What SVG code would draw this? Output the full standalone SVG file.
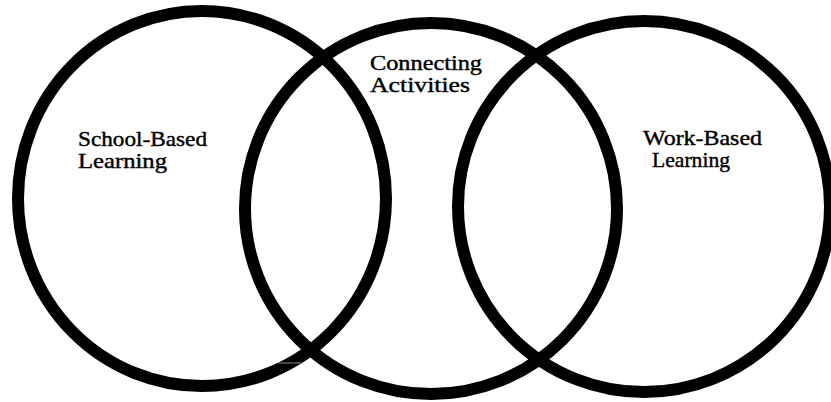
<svg xmlns="http://www.w3.org/2000/svg" width="831" height="402" viewBox="0 0 831 402">
<style>
.ring{fill:none;stroke:#000;stroke-width:12}
.lbl{font-family:"Liberation Serif","Times New Roman",serif;font-size:21px;fill:#000;stroke:#000;stroke-width:0.4}
</style>
<rect width="831" height="402" fill="#fff"/>
<g id="school">
<ellipse class="ring" cx="202" cy="198.5" rx="184" ry="187.5"/>
<text class="lbl" x="78" y="146" textLength="129" lengthAdjust="spacingAndGlyphs">School-Based</text>
<text class="lbl" x="78" y="168" textLength="89" lengthAdjust="spacingAndGlyphs">Learning</text>
</g>
<g id="connecting">
<ellipse class="ring" cx="431" cy="208.5" rx="186" ry="185.5"/>
<text class="lbl" x="370" y="70" textLength="112" lengthAdjust="spacingAndGlyphs">Connecting</text>
<text class="lbl" x="370" y="92" textLength="100" lengthAdjust="spacingAndGlyphs">Activities</text>
</g>
<g id="work">
<ellipse class="ring" cx="644" cy="206.5" rx="186" ry="185.5"/>
<text class="lbl" x="643" y="145" textLength="119" lengthAdjust="spacingAndGlyphs">Work-Based</text>
<text class="lbl" x="652" y="167" textLength="78" lengthAdjust="spacingAndGlyphs">Learning</text>
</g>
<g id="connectors">
<line x1="278" y1="363" x2="303" y2="363" stroke="#888" stroke-width="1"/>
</g>
</svg>
